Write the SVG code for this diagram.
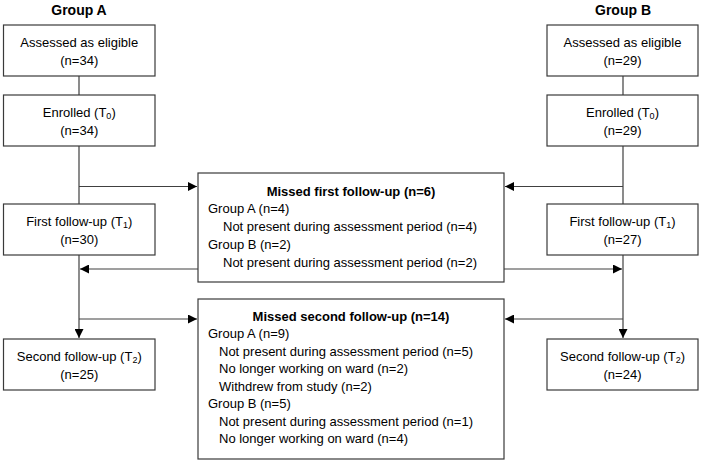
<svg xmlns="http://www.w3.org/2000/svg" width="702" height="463" viewBox="0 0 702 463">
<defs>
<marker id="ah" viewBox="0 0 10 10" refX="10" refY="5" markerWidth="9" markerHeight="9" markerUnits="userSpaceOnUse" orient="auto">
<path d="M0,0 L10,5 L0,10 Z" fill="#000"/>
</marker>
<style>
.box{fill:#fff;stroke:#3a3a3a;stroke-width:1.2}
.t{font-family:"Liberation Sans",Arial,sans-serif;font-size:13px;fill:#000}
.c{text-anchor:middle}
.b{font-weight:bold}
.h{font-family:"Liberation Sans",Arial,sans-serif;font-size:14px;font-weight:bold;text-anchor:middle;fill:#000}
.sub{font-size:9px}
.ln{fill:none;stroke:#404040;stroke-width:1.2}
</style>
</defs>
<rect width="702" height="463" fill="#fff"/>
<text class="h" x="79" y="15">Group A</text>
<text class="h" x="623" y="15">Group B</text>
<g id="connectors">
<path class="ln" d="M79,76 V95 M79,146 V204"/>
<path class="ln" d="M79,186.5 H197" marker-end="url(#ah)"/>
<path class="ln" d="M79,255 V338" marker-end="url(#ah)"/>
<path class="ln" d="M198,269 H80" marker-end="url(#ah)"/>
<path class="ln" d="M79,319 H197" marker-end="url(#ah)"/>
<path class="ln" d="M623,76 V95 M623,146 V204"/>
<path class="ln" d="M623,186.5 H505" marker-end="url(#ah)"/>
<path class="ln" d="M623,255 V338" marker-end="url(#ah)"/>
<path class="ln" d="M504,269 H622" marker-end="url(#ah)"/>
<path class="ln" d="M623,319 H505" marker-end="url(#ah)"/>
</g>
<g id="a1"><rect class="box" x="3.5" y="25" width="151.5" height="51"/>
<text class="t c" x="79.25" y="46.5">Assessed as eligible</text><text class="t c" x="79.25" y="64.5">(n=34)</text></g>
<g id="a2"><rect class="box" x="3.5" y="95" width="151.5" height="51"/>
<text class="t c" x="79.25" y="116.5">Enrolled (T<tspan class="sub" dy="2">0</tspan><tspan dy="-2">)</tspan></text><text class="t c" x="79.25" y="134.5">(n=34)</text></g>
<g id="a3"><rect class="box" x="3.5" y="204" width="151.5" height="51"/>
<text class="t c" x="79.25" y="225.5">First follow-up (T<tspan class="sub" dy="2">1</tspan><tspan dy="-2">)</tspan></text><text class="t c" x="79.25" y="243.5">(n=30)</text></g>
<g id="a4"><rect class="box" x="3.5" y="339" width="151.5" height="51"/>
<text class="t c" x="79.25" y="360.5">Second follow-up (T<tspan class="sub" dy="2">2</tspan><tspan dy="-2">)</tspan></text><text class="t c" x="79.25" y="378.5">(n=25)</text></g>
<g id="b1"><rect class="box" x="547" y="25" width="151" height="51"/>
<text class="t c" x="622.5" y="46.5">Assessed as eligible</text><text class="t c" x="622.5" y="64.5">(n=29)</text></g>
<g id="b2"><rect class="box" x="547" y="95" width="151" height="51"/>
<text class="t c" x="622.5" y="116.5">Enrolled (T<tspan class="sub" dy="2">0</tspan><tspan dy="-2">)</tspan></text><text class="t c" x="622.5" y="134.5">(n=29)</text></g>
<g id="b3"><rect class="box" x="547" y="204" width="151" height="51"/>
<text class="t c" x="622.5" y="225.5">First follow-up (T<tspan class="sub" dy="2">1</tspan><tspan dy="-2">)</tspan></text><text class="t c" x="622.5" y="243.5">(n=27)</text></g>
<g id="b4"><rect class="box" x="547" y="339" width="151" height="51"/>
<text class="t c" x="622.5" y="360.5">Second follow-up (T<tspan class="sub" dy="2">2</tspan><tspan dy="-2">)</tspan></text><text class="t c" x="622.5" y="378.5">(n=24)</text></g>
<g id="m1"><rect class="box" x="198" y="173" width="306" height="109"/>
<text class="t c b" x="351" y="195.5">Missed first follow-up (n=6)</text>
<text class="t" x="208" y="213.3">Group A (n=4)</text>
<text class="t" x="223" y="231">Not present during assessment period (n=4)</text>
<text class="t" x="208" y="248.8">Group B (n=2)</text>
<text class="t" x="223" y="266.5">Not present during assessment period (n=2)</text></g>
<g id="m2"><rect class="box" x="198" y="299" width="306" height="160"/>
<text class="t c b" x="351" y="320.5">Missed second follow-up (n=14)</text>
<text class="t" x="208" y="338">Group A (n=9)</text>
<text class="t" x="219" y="355.5">Not present during assessment period (n=5)</text>
<text class="t" x="219" y="373">No longer working on ward (n=2)</text>
<text class="t" x="219" y="390.5">Withdrew from study (n=2)</text>
<text class="t" x="208" y="408">Group B (n=5)</text>
<text class="t" x="219" y="425.5">Not present during assessment period (n=1)</text>
<text class="t" x="219" y="443">No longer working on ward (n=4)</text></g>
</svg>
